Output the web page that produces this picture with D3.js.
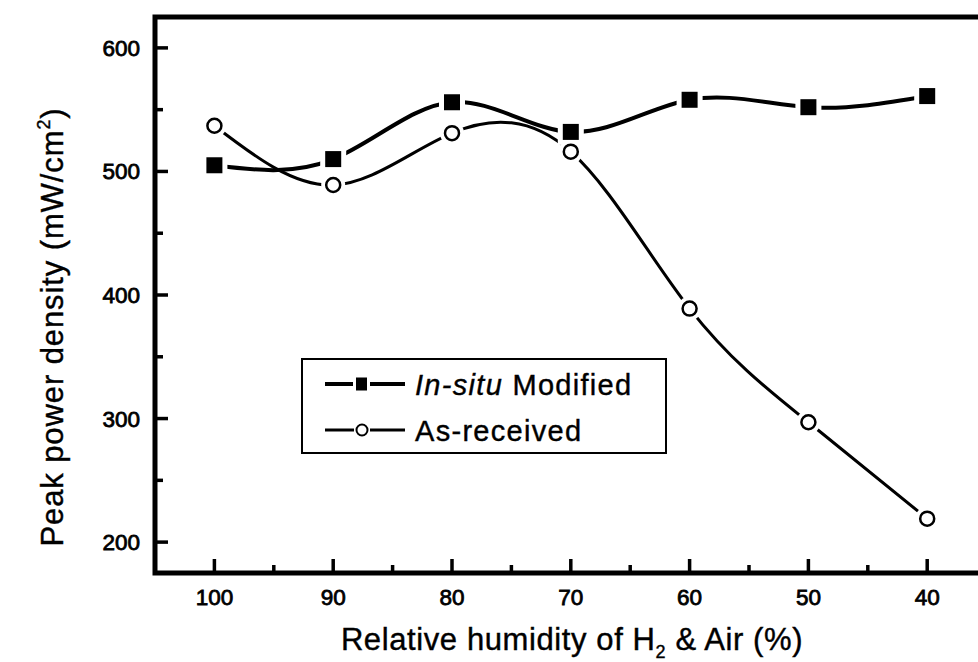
<!DOCTYPE html>
<html>
<head>
<meta charset="utf-8">
<script src="https://cdn.jsdelivr.net/npm/d3@7"></script>
<style>
  html, body { margin: 0; padding: 0; background: #fff; }
  svg { display: block; font-family: "Liberation Sans", Arial, sans-serif; }
</style>
</head>
<body>
<svg id="chart" width="978" height="662"></svg>
<script>
// ---- data ----
const humidity = [100, 90, 80, 70, 60, 50, 40];
const modified = [505, 510, 556, 532, 558, 552, 561];
const asReceived = [537, 489, 531, 516, 389, 297, 219];
const xMajorTicks = [100, 90, 80, 70, 60, 50, 40];
const xMinorTicks = [95, 85, 75, 65, 55, 45];
const yMajorTicks = [200, 300, 400, 500, 600];
const yMinorTicks = [250, 350, 450, 550];
const seriesNames = ["Modified", "As-received"];

(function () {
const svg = d3.select("#chart");
const x = d3.scaleLinear().domain([105, 35]).range([155, 986.6]);
const y = d3.scaleLinear().domain([175, 625]).range([573, 17]);

const pL = 155, pR = 978, pT = 17, pB = 573;

// tick marks
const g = svg.append("g");
g.selectAll(".xmaj").data(xMajorTicks).join("line")
  .attr("x1", d => x(d)).attr("x2", d => x(d))
  .attr("y1", pB).attr("y2", pB - 14)
  .attr("stroke", "#000").attr("stroke-width", 3.5);
g.selectAll(".xmin").data(xMinorTicks).join("line")
  .attr("x1", d => x(d)).attr("x2", d => x(d))
  .attr("y1", pB).attr("y2", pB - 8)
  .attr("stroke", "#000").attr("stroke-width", 3.5);
g.selectAll(".ymaj").data(yMajorTicks).join("line")
  .attr("y1", d => y(d)).attr("y2", d => y(d))
  .attr("x1", pL).attr("x2", pL + 13)
  .attr("stroke", "#000").attr("stroke-width", 3.5);
g.selectAll(".ymin").data(yMinorTicks).join("line")
  .attr("y1", d => y(d)).attr("y2", d => y(d))
  .attr("x1", pL).attr("x2", pL + 8)
  .attr("stroke", "#000").attr("stroke-width", 3.5);

// tick labels
g.selectAll(".xl").data(xMajorTicks).join("text")
  .attr("x", d => x(d)).attr("y", 605)
  .attr("text-anchor", "middle").attr("font-size", 22.5)
  .attr("stroke", "#000").attr("stroke-width", 0.8)
  .text(d => d);
g.selectAll(".yl").data(yMajorTicks).join("text")
  .attr("x", 140).attr("y", d => y(d) + 8)
  .attr("text-anchor", "end").attr("font-size", 22.5)
  .attr("stroke", "#000").attr("stroke-width", 0.8)
  .text(d => d);

// axes frame (left, bottom, top)
svg.append("path")
  .attr("d", `M${pR},${pT} L${pL},${pT} L${pL},${pB} L${pR},${pB}`)
  .attr("fill", "none").attr("stroke", "#000").attr("stroke-width", 5)
  .attr("stroke-linejoin", "miter");

// lines
const pts1 = humidity.map((h, i) => [h, modified[i]]);
const pts2 = humidity.map((h, i) => [h, asReceived[i]]);
const line = d3.line().x(d => x(d[0])).y(d => y(d[1])).curve(d3.curveNatural);

svg.append("path").attr("d", line(pts2)).attr("fill", "none")
  .attr("stroke", "#000").attr("stroke-width", 3);
svg.append("path").attr("d", line(pts1)).attr("fill", "none")
  .attr("stroke", "#000").attr("stroke-width", 4);

// markers with white gaps
const sq = 16;
svg.selectAll(".sqh").data(pts1).join("rect")
  .attr("x", d => x(d[0]) - sq / 2 - 5).attr("y", d => y(d[1]) - sq / 2 - 5)
  .attr("width", sq + 10).attr("height", sq + 10).attr("fill", "#fff");
svg.selectAll(".cih").data(pts2).join("circle")
  .attr("cx", d => x(d[0])).attr("cy", d => y(d[1])).attr("r", 12).attr("fill", "#fff");
svg.selectAll(".sqm").data(pts1).join("rect")
  .attr("x", d => x(d[0]) - sq / 2).attr("y", d => y(d[1]) - sq / 2)
  .attr("width", sq).attr("height", sq).attr("fill", "#000");
svg.selectAll(".cim").data(pts2).join("circle")
  .attr("cx", d => x(d[0])).attr("cy", d => y(d[1])).attr("r", 7)
  .attr("fill", "#fff").attr("stroke", "#000").attr("stroke-width", 2.5);

// legend
const lg = svg.append("g");
lg.append("rect").attr("x", 302).attr("y", 359).attr("width", 364).attr("height", 94)
  .attr("fill", "#fff").attr("stroke", "#000").attr("stroke-width", 2);
const ly1 = 384, ly2 = 430;
lg.append("line").attr("x1", 325).attr("x2", 353).attr("y1", ly1).attr("y2", ly1).attr("stroke", "#000").attr("stroke-width", 4);
lg.append("line").attr("x1", 370).attr("x2", 405).attr("y1", ly1).attr("y2", ly1).attr("stroke", "#000").attr("stroke-width", 4);
lg.append("rect").attr("x", 356).attr("y", ly1 - 6.5).attr("width", 11).attr("height", 13).attr("fill", "#000");
lg.append("line").attr("x1", 325).attr("x2", 354).attr("y1", ly2).attr("y2", ly2).attr("stroke", "#000").attr("stroke-width", 3);
lg.append("line").attr("x1", 370).attr("x2", 405).attr("y1", ly2).attr("y2", ly2).attr("stroke", "#000").attr("stroke-width", 3);
lg.append("circle").attr("cx", 362).attr("cy", ly2).attr("r", 5.5).attr("fill", "#fff").attr("stroke", "#000").attr("stroke-width", 2);
const lgFont = 29, lgSpace = 1.3;
const t1 = lg.append("text").attr("x", 415).attr("y", ly1 + 11).attr("font-size", lgFont)
  .attr("letter-spacing", lgSpace).attr("stroke", "#000").attr("stroke-width", 0.4);
t1.append("tspan").attr("font-style", "italic").text("In-situ");
t1.append("tspan").text(" " + seriesNames[0]);
lg.append("text").attr("x", 415).attr("y", ly2 + 11).attr("font-size", lgFont)
  .attr("letter-spacing", lgSpace).attr("stroke", "#000").attr("stroke-width", 0.4)
  .text(seriesNames[1]);

// axis titles
const xt = svg.append("text").attr("x", 572).attr("y", 650)
  .attr("text-anchor", "middle").attr("font-size", 31).attr("letter-spacing", 0.6)
  .attr("stroke", "#000").attr("stroke-width", 0.4);
xt.append("tspan").text("Relative humidity of H");
xt.append("tspan").attr("font-size", 18).attr("dy", 8).text("2");
xt.append("tspan").attr("dy", -8).text(" & Air (%)");

const yt = svg.append("text").attr("transform", "translate(63,327) rotate(-90)")
  .attr("text-anchor", "middle").attr("font-size", 31).attr("letter-spacing", 0.9)
  .attr("stroke", "#000").attr("stroke-width", 0.4);
yt.append("tspan").text("Peak power density (mW/cm");
yt.append("tspan").attr("font-size", 18).attr("dy", -13).text("2");
yt.append("tspan").attr("dy", 13).text(")");
})();
</script>
</body>
</html>
